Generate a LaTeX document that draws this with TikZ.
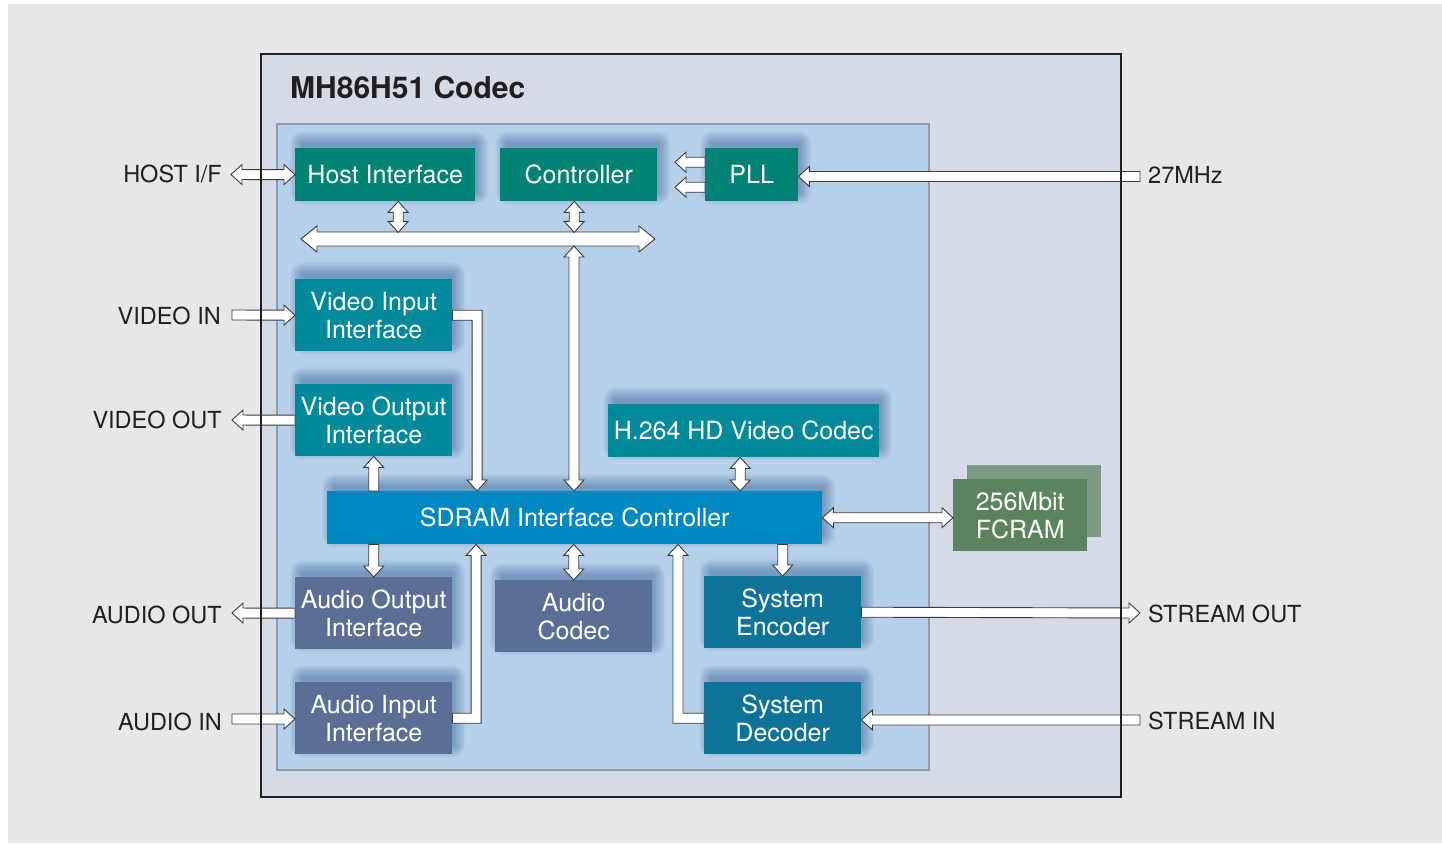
\documentclass[tikz,border=0pt]{standalone}
\usepackage{fontspec}
\setmainfont{TeX Gyre Heros}
\usetikzlibrary{calc}
\pgfdeclarelayer{bglayer}
\pgfdeclarelayer{shadowlayer}
\pgfdeclarelayer{toplayer}
\pgfsetlayers{bglayer,shadowlayer,main,toplayer}
\definecolor{pagebg}{HTML}{E6E7E9}
\definecolor{framefill}{HTML}{D4DBE6}
\definecolor{panelfill}{HTML}{B6D0E9}
\definecolor{panelline}{HTML}{8E9BAC}
\definecolor{framecol}{HTML}{231F20}
\definecolor{tealg}{HTML}{008374}
\definecolor{tealb}{HTML}{008A9C}
\definecolor{sdramc}{HTML}{0088C0}
\definecolor{slate}{HTML}{5A6E96}
\definecolor{sysc}{HTML}{0D7399}
\definecolor{fcramf}{HTML}{5B845E}
\definecolor{fcramb}{HTML}{7C9A86}
\definecolor{shadowc}{HTML}{295594}
\definecolor{labelc}{HTML}{231F20}
\definecolor{arrowline}{HTML}{3C3C3C}
\tikzset{
  blk/.style={anchor=north west, inner sep=0pt, text=white, align=center,
    font=\fontsize{25}{28}\selectfont},
  ext/.style={text=labelc, font=\fontsize{23.5}{28}\selectfont, inner sep=0pt},
  fat/.style={fill=white, draw=arrowline, line width=0.9pt, line join=miter},
}
% single fat arrow: start, tip, shaft half width, head half width, head length
\newcommand\fatsingle[5]{%
  \draw[fat] ($(#1)!#3pt!90:(#2)$) -- ($(#2)!#5pt!(#1)!#3pt!-90:(#1)$)
    -- ($(#2)!#5pt!(#1)!#4pt!-90:(#1)$) -- (#2)
    -- ($(#2)!#5pt!(#1)!#4pt!90:(#1)$) -- ($(#2)!#5pt!(#1)!#3pt!90:(#1)$)
    -- ($(#1)!#3pt!-90:(#2)$) -- cycle;}
% double fat arrow
\newcommand\fatdouble[5]{%
  \draw[fat] (#1) -- ($(#1)!#5pt!(#2)!#4pt!90:(#2)$) -- ($(#1)!#5pt!(#2)!#3pt!90:(#2)$)
    -- ($(#2)!#5pt!(#1)!#3pt!-90:(#1)$) -- ($(#2)!#5pt!(#1)!#4pt!-90:(#1)$) -- (#2)
    -- ($(#2)!#5pt!(#1)!#4pt!90:(#1)$) -- ($(#2)!#5pt!(#1)!#3pt!90:(#1)$)
    -- ($(#1)!#5pt!(#2)!#3pt!-90:(#2)$) -- ($(#1)!#5pt!(#2)!#4pt!-90:(#2)$) -- cycle;}
\newcommand\sarr[2]{\fatsingle{#1}{#2}{5}{10}{11}}
\newcommand\darr[2]{\fatdouble{#1}{#2}{5}{10}{11}}
\newcommand\boxshadow[1]{%
  \begin{pgfonlayer}{shadowlayer}
  \foreach \r in {1,...,13}{%
    \fill[shadowc, opacity=0.04, rounded corners=\r pt]
      ([shift={(8-\r,-4-\r)}]#1.north west) rectangle ([shift={(\r,-10+\r)}]#1.south east);}
  \end{pgfonlayer}}
\begin{document}
\begin{tikzpicture}[x=1pt, y=-1pt]
\useasboundingbox (0,0) rectangle (1442,843);
\begin{pgfonlayer}{bglayer}
  \fill[white] (0,0) rectangle (1442,843);
  \fill[pagebg] (8,4) rectangle (1442,843);
  \fill[framefill] (261,54) rectangle (1121,797);
  \filldraw[fill=panelfill, draw=panelline, line width=2pt] (277,124) rectangle (929,770);
\end{pgfonlayer}
\begin{pgfonlayer}{toplayer}
  \draw[framecol, line width=2.5pt] (261,54) rectangle (1121,797);
\end{pgfonlayer}

\node[anchor=base west, inner sep=0pt, text=labelc, font=\bfseries\fontsize{30}{34}\selectfont]
  (title) at (290,98) {MH86H51 Codec};

% blocks
\node[blk, fill=tealg, minimum width=180pt, minimum height=53pt] (host) at (295,148) {Host Interface};
\node[blk, fill=tealg, minimum width=157pt, minimum height=53pt] (ctrl) at (500,148) {Controller};
\node[blk, fill=tealg, minimum width=93pt, minimum height=53pt] (pll) at (705,148) {PLL};
\node[blk, fill=tealb, minimum width=157pt, minimum height=72pt] (vi) at (295,279) {Video Input\\Interface};
\node[blk, fill=tealb, minimum width=157pt, minimum height=72pt] (vo) at (295,384) {Video Output\\Interface};
\node[blk, fill=tealb, minimum width=271pt, minimum height=53pt] (h264) at (608,404) {H.264 HD Video Codec};
\node[blk, fill=sdramc, minimum width=495pt, minimum height=53pt] (sdram) at (327,491) {SDRAM Interface Controller};
\node[blk, fill=slate, minimum width=157pt, minimum height=72pt] (ao) at (295,577) {Audio Output\\Interface};
\node[blk, fill=slate, minimum width=157pt, minimum height=72pt] (ac) at (495,580) {Audio\\Codec};
\node[blk, fill=slate, minimum width=157pt, minimum height=72pt] (ai) at (295,682) {Audio Input\\Interface};
\node[blk, fill=sysc, minimum width=157pt, minimum height=72pt] (se) at (704,576) {System\\Encoder};
\node[blk, fill=sysc, minimum width=157pt, minimum height=72pt] (sd) at (704,682) {System\\Decoder};
\node[blk, fill=fcramb, minimum width=134pt, minimum height=72pt] (fcramback) at (967,465) {};
\node[blk, fill=fcramf, minimum width=134pt, minimum height=72pt] (fcram) at (953,479) {256Mbit\\FCRAM};

\foreach \b in {host,ctrl,pll,vi,vo,h264,sdram,ao,ac,ai,se,sd}{\boxshadow{\b}}

% external labels
\node[ext, anchor=base east] (lhost) at (222,182.5) {HOST I/F};
\node[ext, anchor=base east] (lvin) at (221,324.5) {VIDEO IN};
\node[ext, anchor=base east] (lvout) at (222,428.5) {VIDEO OUT};
\node[ext, anchor=base east] (laout) at (222,623.5) {AUDIO OUT};
\node[ext, anchor=base east] (lain) at (222,730.5) {AUDIO IN};
\node[ext, anchor=base west] (lmhz) at (1148,183.5) {27MHz};
\node[ext, anchor=base west] (lsout) at (1148,622.5) {STREAM OUT};
\node[ext, anchor=base west] (lsin) at (1148,729.5) {STREAM IN};

% connector end points
\coordinate (hostL) at (231,174.5);
\coordinate (busL) at (301,239);
\coordinate (busR) at (655,239);
\coordinate (h1) at ([xshift=13pt]host.south);
\coordinate (h2) at ($(h1)+(0,31)$);
\coordinate (c1) at ([xshift=-4.5pt]ctrl.south);
\coordinate (c2) at ($(c1)+(0,31)$);
\coordinate (b1) at (574,246);
\coordinate (b2) at (b1 |- sdram.north);
\coordinate (p1) at ([yshift=12.5pt]pll.west);
\coordinate (p1e) at ($(p1)+(-30,0)$);
\coordinate (p2) at ([yshift=-12.5pt]pll.west);
\coordinate (p2e) at ($(p2)+(-30,0)$);
\coordinate (mhz) at (1140,176.5);
\coordinate (pllin) at (pll.east |- mhz);
\coordinate (vinL) at (232,315);
\coordinate (voutL) at (232,420);
\coordinate (vo1) at (vo.south |- sdram.north);
\coordinate (hv1) at ([xshift=-3.5pt]h264.south);
\coordinate (hv2) at (hv1 |- sdram.north);
\coordinate (fr) at (fcram.west |- sdram.east);
\coordinate (ao1) at (ao.north |- sdram.south);
\coordinate (aoutL) at (232,613);
\coordinate (ainL) at (232,719);
\coordinate (ac1) at (ac.north |- sdram.south);
\coordinate (se1) at (se.north |- sdram.south);
\coordinate (soR) at (1140,613);
\coordinate (siR) at (1140,720);
\coordinate (sdin) at (sd.east |- siR);
\coordinate (aiin) at (ai.west |- ainL);
\coordinate (e1) at ($(vi.east)+(24.7,0)$);
\coordinate (e1t) at (e1 |- sdram.north);
\coordinate (e2) at ($(ai.east)+(23.7,0)$);
\coordinate (e2t) at (e2 |- sdram.south);
\coordinate (e3) at ($(sd.west)+(-26,0)$);
\coordinate (e3t) at (e3 |- sdram.south);

% connectors
\darr{hostL}{host.west}
\fatdouble{busL}{busR}{7}{13}{16}
\darr{h1}{h2}
\darr{c1}{c2}
\darr{b1}{b2}
\sarr{p1}{p1e}
\sarr{p2}{p2e}
\sarr{mhz}{pllin}
\sarr{vinL}{vi.west}
\sarr{vo.west}{voutL}
\sarr{vo1}{vo.south}
\darr{hv1}{hv2}
\darr{sdram.east}{fr}
\sarr{ao1}{ao.north}
\sarr{ao.west}{aoutL}
\sarr{ainL}{aiin}
\darr{ac1}{ac.north}
\sarr{se1}{se.north}
\sarr{se.east}{soR}
\sarr{siR}{sdin}
% elbow connectors
\draw[fat] ([shift={(0,-5)}]vi.east) -- ([shift={(5,-5)}]e1) -- ([shift={(5,-11)}]e1t)
  -- ([shift={(10,-11)}]e1t) -- (e1t) -- ([shift={(-10,-11)}]e1t) -- ([shift={(-5,-11)}]e1t)
  -- ([shift={(-5,5)}]e1) -- ([shift={(0,5)}]vi.east) -- cycle;
\draw[fat] ([shift={(0,5)}]ai.east) -- ([shift={(5,5)}]e2) -- ([shift={(5,11)}]e2t)
  -- ([shift={(10,11)}]e2t) -- (e2t) -- ([shift={(-10,11)}]e2t) -- ([shift={(-5,11)}]e2t)
  -- ([shift={(-5,-5)}]e2) -- ([shift={(0,-5)}]ai.east) -- cycle;
\draw[fat] ([shift={(0,5)}]sd.west) -- ([shift={(-5,5)}]e3) -- ([shift={(-5,11)}]e3t)
  -- ([shift={(-10,11)}]e3t) -- (e3t) -- ([shift={(10,11)}]e3t) -- ([shift={(5,11)}]e3t)
  -- ([shift={(5,-5)}]e3) -- ([shift={(0,-5)}]sd.west) -- cycle;
\end{tikzpicture}
\end{document}
